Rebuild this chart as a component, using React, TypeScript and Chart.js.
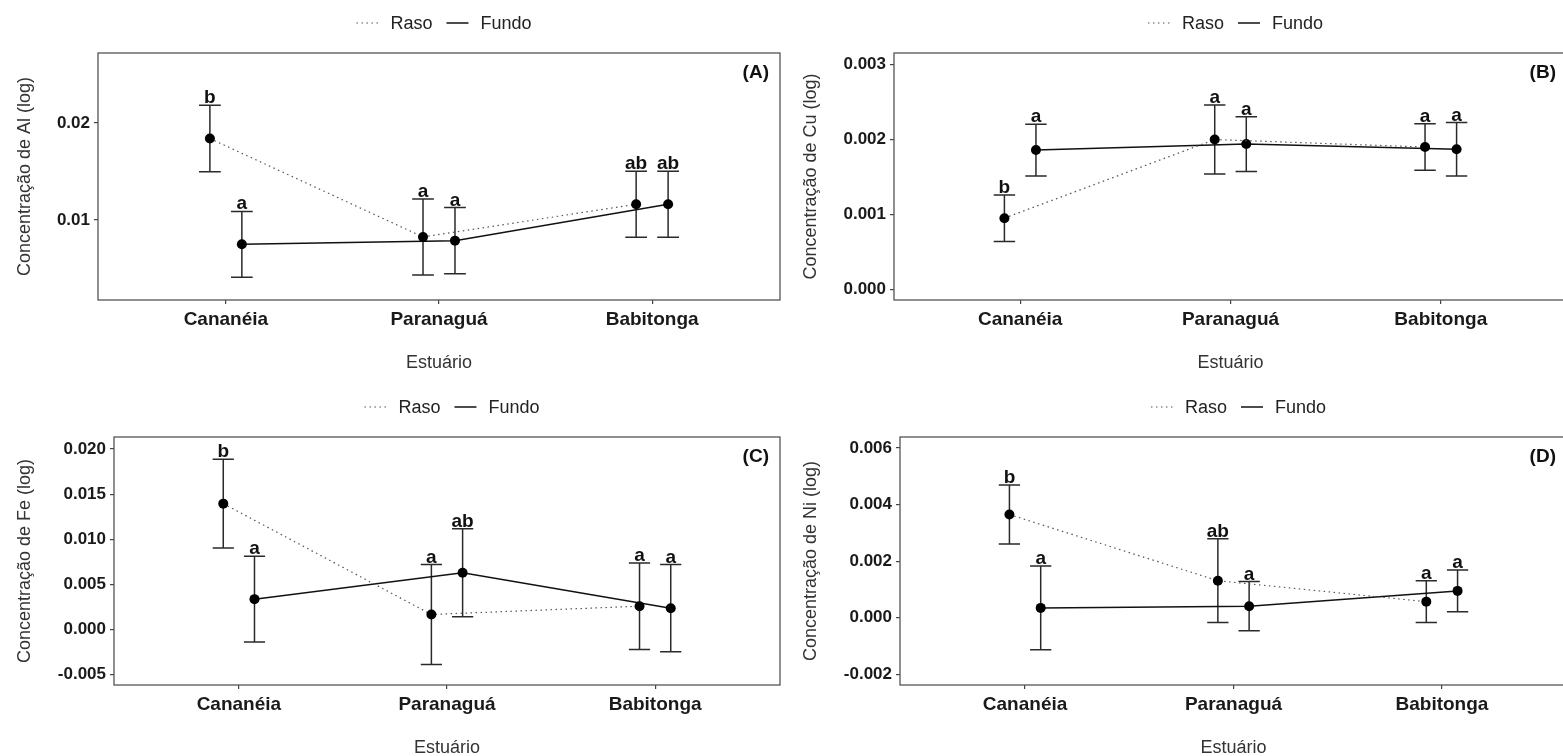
import React, { useEffect, useRef } from "react";
import { Chart, registerables } from "chart.js";

Chart.register(...registerables);

const FONT = "'Liberation Sans', Arial, Helvetica, sans-serif";
Chart.defaults.font.family = FONT;

// ---------- shared data ----------
const categories = ["Cananéia", "Paranaguá", "Babitonga"];
const categoryPositions = [1, 2, 3];
const seriesNames = ["Raso", "Fundo"];
const xTitle = "Estuário";

// ---------- Panel A: Al ----------
const alRaso = [0.0184, 0.00825, 0.01162];
const alRasoErr = [0.00342, 0.00392, 0.0034];
const alFundo = [0.00749, 0.00787, 0.01162];
const alFundoErr = [0.00339, 0.00341, 0.0034];
const alRasoLetters = ["b", "a", "ab"];
const alFundoLetters = ["a", "a", "ab"];
const alTicks = [0.01, 0.02];
const alTickLabels = ["0.01", "0.02"];

// ---------- Panel B: Cu ----------
const cuRaso = [0.00095, 0.002, 0.0019];
const cuRasoErr = [0.00031, 0.00046, 0.00031];
const cuFundo = [0.00186, 0.00194, 0.00187];
const cuFundoErr = [0.000346, 0.000366, 0.000357];
const cuRasoLetters = ["b", "a", "a"];
const cuFundoLetters = ["a", "a", "a"];
const cuTicks = [0, 0.001, 0.002, 0.003];
const cuTickLabels = ["0.000", "0.001", "0.002", "0.003"];

// ---------- Panel C: Fe ----------
const feRaso = [0.01395, 0.00166, 0.00258];
const feRasoErr = [0.00491, 0.00554, 0.0048];
const feFundo = [0.00336, 0.00628, 0.00236];
const feFundoErr = [0.00475, 0.00488, 0.00484];
const feRasoLetters = ["b", "a", "a"];
const feFundoLetters = ["a", "ab", "a"];
const feTicks = [-0.005, 0, 0.005, 0.01, 0.015, 0.02];
const feTickLabels = ["-0.005", "0.000", "0.005", "0.010", "0.015", "0.020"];

// ---------- Panel D: Ni ----------
const niRaso = [0.00365, 0.00131, 0.00057];
const niRasoErr = [0.00104, 0.00148, 0.00074];
const niFundo = [0.00035, 0.00041, 0.00095];
const niFundoErr = [0.00148, 0.00087, 0.00074];
const niRasoLetters = ["b", "ab", "a"];
const niFundoLetters = ["a", "a", "a"];
const niTicks = [-0.002, 0, 0.002, 0.004, 0.006];
const niTickLabels = ["-0.002", "0.000", "0.002", "0.004", "0.006"];

type PanelData = {
  label: string;
  yTitle: string;
  raso: number[];
  rasoErr: number[];
  fundo: number[];
  fundoErr: number[];
  rasoLetters: string[];
  fundoLetters: string[];
  ticks: number[];
  tickLabels: string[];
  yMin: number;
  yMax: number;
};

const panelsData: PanelData[] = [
  { label: "(A)", yTitle: "Concentração de Al (log)", raso: alRaso, rasoErr: alRasoErr, fundo: alFundo, fundoErr: alFundoErr, rasoLetters: alRasoLetters, fundoLetters: alFundoLetters, ticks: alTicks, tickLabels: alTickLabels, yMin: 0.00175, yMax: 0.02722 },
  { label: "(B)", yTitle: "Concentração de Cu (log)", raso: cuRaso, rasoErr: cuRasoErr, fundo: cuFundo, fundoErr: cuFundoErr, rasoLetters: cuRasoLetters, fundoLetters: cuFundoLetters, ticks: cuTicks, tickLabels: cuTickLabels, yMin: -0.000143, yMax: 0.003156 },
  { label: "(C)", yTitle: "Concentração de Fe (log)", raso: feRaso, rasoErr: feRasoErr, fundo: feFundo, fundoErr: feFundoErr, rasoLetters: feRasoLetters, fundoLetters: feFundoLetters, ticks: feTicks, tickLabels: feTickLabels, yMin: -0.00616, yMax: 0.02134 },
  { label: "(D)", yTitle: "Concentração de Ni (log)", raso: niRaso, rasoErr: niRasoErr, fundo: niFundo, fundoErr: niFundoErr, rasoLetters: niRasoLetters, fundoLetters: niFundoLetters, ticks: niTicks, tickLabels: niTickLabels, yMin: -0.002376, yMax: 0.00639 },
];

// ---------- layout (page pixels) ----------
type Layout = { cx: number; cy: number; cw: number; left: number; top: number; right: number; bottom: number; titleOff: number };
const layouts: Layout[] = [
  { cx: 0, cy: 0, cw: 785, left: 98, top: 53, right: 781, bottom: 300, titleOff: 25 },
  { cx: 785, cy: 0, cw: 790, left: 894, top: 53, right: 1567, bottom: 300, titleOff: 26 },
  { cx: 0, cy: 378, cw: 785, left: 114, top: 437, right: 781, bottom: 685, titleOff: 25 },
  { cx: 785, cy: 378, cw: 790, left: 900, top: 437, right: 1567, bottom: 685, titleOff: 26 },
];

const X_AXIS_H = 78;
const DODGE = [-0.075, 0.075];
const CAP_HALF = 0.051;
const TICK_FONT_Y = 17;
const TICK_FONT_X = 19;
const TITLE_FONT = 18;
const LEGEND_FONT = 18;
const LETTER_FONT = 19;
const LABEL_FONT = 19;

function makePlugin(d: PanelData) {
  return {
    id: "decor",
    beforeDatasetsDraw(chart: any) {
      const { ctx } = chart;
      const xs = chart.scales.x;
      const ys = chart.scales.y;
      const groups = [
        { m: d.raso, e: d.rasoErr, off: DODGE[0] },
        { m: d.fundo, e: d.fundoErr, off: DODGE[1] },
      ];
      ctx.save();
      ctx.strokeStyle = "#2a2a2a";
      ctx.lineWidth = 1.5;
      groups.forEach((g) => {
        g.m.forEach((v, i) => {
          const xv = categoryPositions[i] + g.off;
          const x = xs.getPixelForValue(xv);
          const xl = xs.getPixelForValue(xv - CAP_HALF);
          const xr = xs.getPixelForValue(xv + CAP_HALF);
          const yt = ys.getPixelForValue(v + g.e[i]);
          const yb = ys.getPixelForValue(v - g.e[i]);
          ctx.beginPath();
          ctx.moveTo(x, yt);
          ctx.lineTo(x, yb);
          ctx.moveTo(xl, yt);
          ctx.lineTo(xr, yt);
          ctx.moveTo(xl, yb);
          ctx.lineTo(xr, yb);
          ctx.stroke();
        });
      });
      ctx.restore();
    },
    afterDatasetsDraw(chart: any) {
      const { ctx } = chart;
      const xs = chart.scales.x;
      const ys = chart.scales.y;
      const groups = [
        { m: d.raso, e: d.rasoErr, off: DODGE[0], l: d.rasoLetters },
        { m: d.fundo, e: d.fundoErr, off: DODGE[1], l: d.fundoLetters },
      ];
      ctx.save();
      ctx.font = `bold ${LETTER_FONT}px ${FONT}`;
      ctx.fillStyle = "#111";
      ctx.textAlign = "center";
      ctx.textBaseline = "alphabetic";
      groups.forEach((g) => {
        g.m.forEach((v, i) => {
          const x = xs.getPixelForValue(categoryPositions[i] + g.off);
          const yt = ys.getPixelForValue(v + g.e[i]);
          ctx.fillText(g.l[i], x, yt - 2);
        });
      });
      ctx.restore();
    },
    afterDraw(chart: any) {
      const { ctx, chartArea: ca } = chart;
      ctx.save();
      // panel border
      ctx.strokeStyle = "#555";
      ctx.lineWidth = 1.3;
      ctx.strokeRect(ca.left, ca.top, ca.right - ca.left, ca.bottom - ca.top);
      // panel label
      ctx.font = `bold ${LABEL_FONT}px ${FONT}`;
      ctx.fillStyle = "#111";
      ctx.textAlign = "right";
      ctx.textBaseline = "middle";
      ctx.fillText(d.label, ca.right - 11, ca.top + 20);
      // legend
      const ds = chart.data.datasets;
      ctx.font = `${LEGEND_FONT}px ${FONT}`;
      const keyW = 22, gapKT = 12, gapTK = 14;
      const w1 = ctx.measureText(ds[0].label).width;
      const w2 = ctx.measureText(ds[1].label).width;
      const total = keyW + gapKT + w1 + gapTK + keyW + gapKT + w2;
      let x = (ca.left + ca.right) / 2 + 5 - total / 2;
      const y = ca.top - 30;
      const items = [
        { w: w1, ds: ds[0] },
        { w: w2, ds: ds[1] },
      ];
      items.forEach((it, k) => {
        ctx.save();
        ctx.strokeStyle = it.ds.borderColor;
        ctx.lineWidth = it.ds.borderWidth;
        ctx.setLineDash(it.ds.borderDash || []);
        ctx.beginPath();
        ctx.moveTo(x, y);
        ctx.lineTo(x + keyW, y);
        ctx.stroke();
        ctx.restore();
        x += keyW + gapKT;
        ctx.fillStyle = "#222";
        ctx.textAlign = "left";
        ctx.textBaseline = "middle";
        ctx.fillText(it.ds.label, x, y + 1);
        x += it.w + (k === 0 ? gapTK : 0);
      });
      ctx.restore();
    },
  };
}

function PanelChart({ d, lay }: { d: PanelData; lay: Layout }) {
  const ref = useRef<HTMLCanvasElement>(null);
  const ch = lay.bottom - lay.cy + X_AXIS_H;
  useEffect(() => {
    const canvas = ref.current!;
    const chart = new Chart(canvas, {
      type: "line",
      data: {
        datasets: [
          {
            label: seriesNames[0],
            data: d.raso.map((v, i) => ({ x: categoryPositions[i] + DODGE[0], y: v })),
            borderColor: "#555",
            borderWidth: 1.2,
            borderDash: [1.5, 3.5],
            pointRadius: 5,
            pointBackgroundColor: "#000",
            pointBorderWidth: 0,
            fill: false,
            tension: 0,
          },
          {
            label: seriesNames[1],
            data: d.fundo.map((v, i) => ({ x: categoryPositions[i] + DODGE[1], y: v })),
            borderColor: "#111",
            borderWidth: 1.5,
            pointRadius: 5,
            pointBackgroundColor: "#000",
            pointBorderWidth: 0,
            fill: false,
            tension: 0,
          },
        ],
      },
      options: {
        animation: false,
        responsive: false,
        events: [],
        layout: {
          padding: { left: 0, top: lay.top - lay.cy, right: lay.cw - (lay.right - lay.cx), bottom: 0 },
        },
        plugins: { legend: { display: false }, tooltip: { enabled: false } },
        scales: {
          x: {
            type: "linear",
            min: 0.4,
            max: 3.6,
            afterBuildTicks: (s: any) => {
              s.ticks = categoryPositions.map((v) => ({ value: v }));
            },
            afterFit: (s: any) => {
              s.height = X_AXIS_H;
            },
            ticks: {
              autoSkip: false,
              maxRotation: 0,
              padding: 4,
              color: "#1a1a1a",
              font: { size: TICK_FONT_X, weight: "bold", family: FONT },
              callback: (v: any) => {
                const i = categoryPositions.indexOf(Number(v));
                return i >= 0 ? categories[i] : "";
              },
            },
            grid: { drawOnChartArea: false, drawTicks: true, tickLength: 4, color: "#444", lineWidth: 1.2 },
            border: { display: false },
            title: {
              display: true,
              text: xTitle,
              color: "#333",
              font: { size: TITLE_FONT, family: FONT },
              padding: { top: 0, bottom: 4 },
            },
          },
          y: {
            type: "linear",
            min: d.yMin,
            max: d.yMax,
            afterBuildTicks: (s: any) => {
              s.ticks = d.ticks.map((v) => ({ value: v }));
            },
            afterFit: (s: any) => {
              s.width = lay.left - lay.cx;
            },
            ticks: {
              padding: 4,
              color: "#1a1a1a",
              font: { size: TICK_FONT_Y, weight: "bold", family: FONT },
              callback: (v: any) => {
                const i = d.ticks.indexOf(Number(v));
                return i >= 0 ? d.tickLabels[i] : "";
              },
            },
            grid: { drawOnChartArea: false, drawTicks: true, tickLength: 4, color: "#444", lineWidth: 1.2 },
            border: { display: false },
            title: {
              display: true,
              text: d.yTitle,
              color: "#333",
              font: { size: TITLE_FONT, family: FONT },
              padding: { top: lay.titleOff - (TITLE_FONT * 1.2) / 2, bottom: 0 },
            },
          },
        },
      },
      plugins: [makePlugin(d)],
    } as any);
    return () => chart.destroy();
  }, []);
  return (
    <canvas
      ref={ref}
      width={lay.cw}
      height={ch}
      style={{ position: "absolute", left: lay.cx, top: lay.cy, width: lay.cw, height: ch }}
    />
  );
}

export default function App() {
  return (
    <div
      style={{
        position: "fixed",
        left: 0,
        top: 0,
        width: 1563,
        height: 756,
        overflow: "hidden",
        background: "#fff",
      }}
    >
      {panelsData.map((d, i) => (
        <PanelChart key={i} d={d} lay={layouts[i]} />
      ))}
    </div>
  );
}
